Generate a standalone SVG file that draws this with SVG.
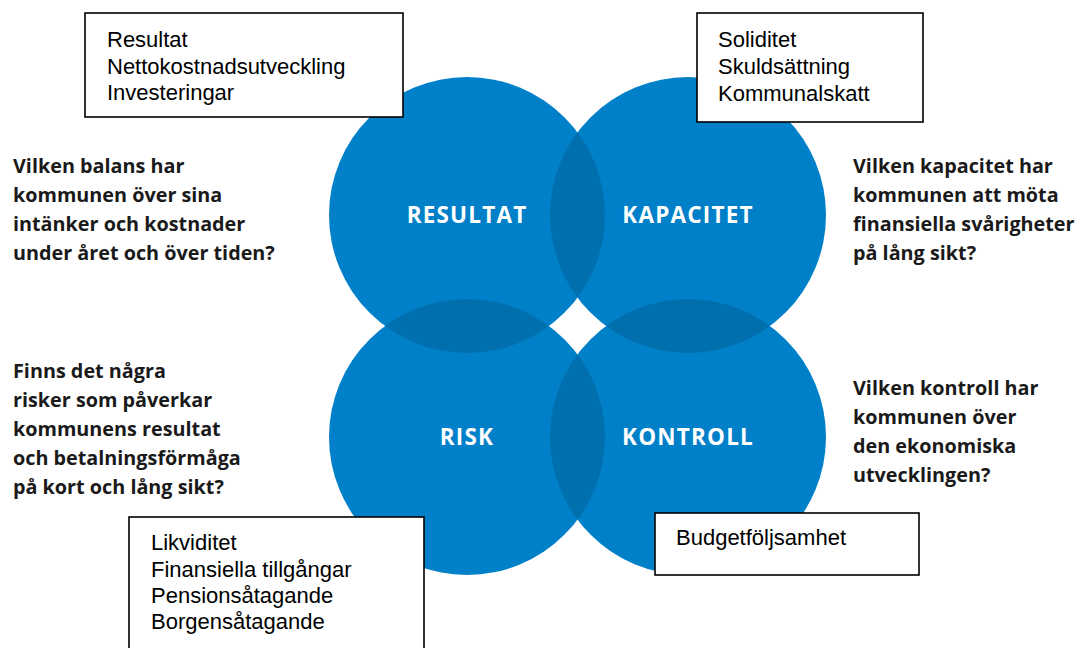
<svg xmlns="http://www.w3.org/2000/svg" width="1086" height="648" viewBox="0 0 1086 648">
<style>
.c{fill:#0080c8}
.ov{fill:#006fad}
.lbl{font-family:"Open Sans","Noto Sans",sans-serif;font-weight:700;font-size:22.5px;fill:#fff;text-anchor:middle;letter-spacing:1.2px}
.q{font-family:"Open Sans","Noto Sans",sans-serif;font-weight:700;font-size:19.8px;fill:#1a1a1a}
.box{fill:#fff;stroke:#000;stroke-width:1.6}
.bt{font-family:"Liberation Sans",Arial,sans-serif;font-size:22px;fill:#000}
</style>
<defs>
<clipPath id="k1"><circle cx="467" cy="215" r="138"/></clipPath>
<clipPath id="k4"><circle cx="688" cy="437" r="138"/></clipPath>
</defs>
<rect width="1086" height="648" fill="#fff"/>
<g id="circles">
<g id="resultat"><circle class="c" cx="467" cy="215" r="138"/></g>
<g id="kapacitet"><circle class="c" cx="688" cy="215" r="138"/></g>
<g id="risk"><circle class="c" cx="467" cy="437" r="138"/></g>
<g id="kontroll"><circle class="c" cx="688" cy="437" r="138"/></g>
<g id="overlaps">
<circle class="ov" cx="688" cy="215" r="138" clip-path="url(#k1)"/>
<circle class="ov" cx="467" cy="437" r="138" clip-path="url(#k1)"/>
<circle class="ov" cx="688" cy="215" r="138" clip-path="url(#k4)"/>
<circle class="ov" cx="467" cy="437" r="138" clip-path="url(#k4)"/>
</g>
<text class="lbl" x="467" y="223">RESULTAT</text>
<text class="lbl" x="688" y="223">KAPACITET</text>
<text class="lbl" x="467" y="445">RISK</text>
<text class="lbl" x="688" y="445">KONTROLL</text>
</g>
<g id="connectors"/>
<g id="q-resultat">
<text class="q" x="13" y="173">Vilken balans har</text>
<text class="q" x="13" y="202">kommunen över sina</text>
<text class="q" x="13" y="231">intänker och kostnader</text>
<text class="q" x="13" y="260">under året och över tiden?</text>
</g>
<g id="q-risk">
<text class="q" x="13" y="378">Finns det några</text>
<text class="q" x="13" y="407">risker som påverkar</text>
<text class="q" x="13" y="436">kommunens resultat</text>
<text class="q" x="13" y="465">och betalningsförmåga</text>
<text class="q" x="13" y="494">på kort och lång sikt?</text>
</g>
<g id="q-kapacitet">
<text class="q" x="853" y="173">Vilken kapacitet har</text>
<text class="q" x="853" y="202">kommunen att möta</text>
<text class="q" x="853" y="231">finansiella svårigheter</text>
<text class="q" x="853" y="260">på lång sikt?</text>
</g>
<g id="q-kontroll">
<text class="q" x="853" y="395">Vilken kontroll har</text>
<text class="q" x="853" y="424">kommunen över</text>
<text class="q" x="853" y="453">den ekonomiska</text>
<text class="q" x="853" y="482">utvecklingen?</text>
</g>
<g id="box-resultat">
<rect class="box" x="85" y="13" width="318" height="104"/>
<text class="bt" x="107" y="47">Resultat</text>
<text class="bt" x="107" y="74">Nettokostnadsutveckling</text>
<text class="bt" x="107" y="100">Investeringar</text>
</g>
<g id="box-kapacitet">
<rect class="box" x="697" y="13" width="226" height="109"/>
<text class="bt" x="718" y="47">Soliditet</text>
<text class="bt" x="718" y="74">Skuldsättning</text>
<text class="bt" x="718" y="101">Kommunalskatt</text>
</g>
<g id="box-risk">
<rect class="box" x="129" y="517" width="295" height="140"/>
<text class="bt" x="151" y="550">Likviditet</text>
<text class="bt" x="151" y="577">Finansiella tillgångar</text>
<text class="bt" x="151" y="603">Pensionsåtagande</text>
<text class="bt" x="151" y="629">Borgensåtagande</text>
</g>
<g id="box-kontroll">
<rect class="box" x="655" y="513" width="264" height="62"/>
<text class="bt" x="676" y="545">Budgetföljsamhet</text>
</g>
</svg>
